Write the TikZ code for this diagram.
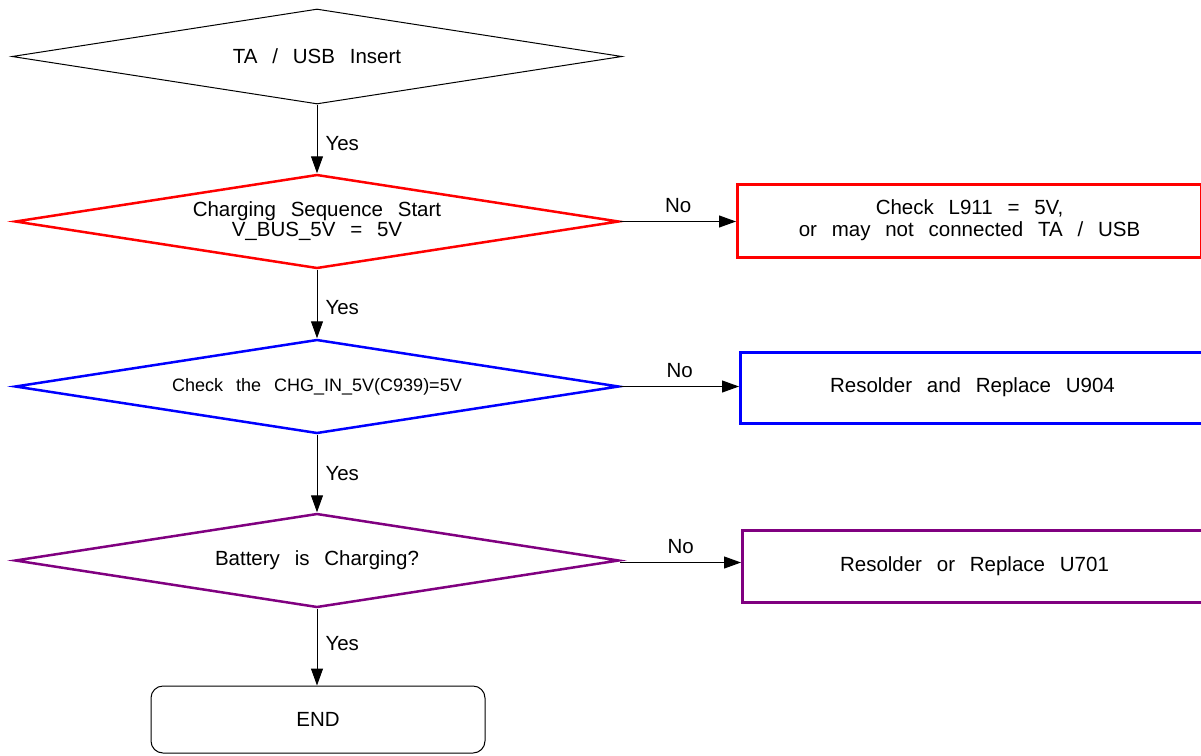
\documentclass[tikz,border=0pt]{standalone}
\usepackage{fontspec}
\setmainfont[WordSpace=2.6]{Liberation Sans}
\usetikzlibrary{shapes.geometric,arrows.meta}
\definecolor{cred}{RGB}{255,0,0}
\definecolor{cblue}{RGB}{0,0,255}
\definecolor{cpurple}{RGB}{128,0,128}
\tikzset{
  dec/.style={shape=diamond, draw, aspect=6.4, minimum width=610pt, minimum height=95pt, inner sep=0pt, align=center, font=\fontsize{20.5}{20}\selectfont},
  cdec/.style={dec, line width=2.5pt, minimum width=604pt, minimum height=94pt},
  outbox/.style={shape=rectangle, draw, line width=3pt, minimum width=464pt, anchor=west, align=center, font=\fontsize{20.5}{22}\selectfont},
  endbox/.style={shape=rectangle, draw, rounded corners=12pt, line width=1pt, minimum width=334pt, minimum height=67pt, font=\fontsize{20.5}{22}\selectfont},
  conn/.style={line width=1pt, -{Triangle[length=17pt,width=12pt]}},
  lbl/.style={font=\fontsize{20.5}{22}\selectfont, inner sep=2pt},
}
\begin{document}
\begin{tikzpicture}[x=1pt,y=-1pt]
\useasboundingbox (0,0) rectangle (1201,755);
\node[dec, line width=1pt] (d0) at (317,56.5) {TA / USB Insert};
\node[cdec, draw=cred] (d1) at (317,221.5) {Charging Sequence Start\\V\_BUS\_5V = 5V};
\node[cdec, draw=cblue, font=\fontsize{18}{20}\selectfont] (d2) at (317,386.5) {Check the CHG\_IN\_5V(C939)=5V};
\node[cdec, draw=cpurple] (d3) at (317,560.5) {Battery is Charging?};
\node[endbox] (e) at (318,719.5) {END};
\node[outbox, draw=cred, minimum height=73pt] (b1) at (736,220.5) {Check L911 = 5V,\\or may not connected TA / USB};
\node[outbox, draw=cblue, minimum height=71pt] (b2) at (739,387.5) {Resolder and Replace U904};
\node[outbox, draw=cpurple, minimum height=72pt] (b3) at (741,566) {Resolder or Replace U701};
\draw[conn] (d0.south) -- node[lbl, right=6pt, yshift=-5pt] {Yes} (d1.north);
\draw[conn] (d1.south) -- node[lbl, right=6pt, yshift=-4pt] {Yes} (d2.north);
\draw[conn] (d2.south) -- node[lbl, right=6pt] {Yes} (d3.north);
\draw[conn] (d3.south) -- node[lbl, right=6pt, yshift=4pt] {Yes} (d3.south |- e.north);
\draw[conn] (d1.east) -- node[lbl, above=6pt] {No} (b1.west |- d1.east);
\draw[conn] (d2.east) -- node[lbl, above=6pt] {No} (b2.west |- d2.east);
\draw[conn] (d3.east) ++(0,2) coordinate (s3) (s3) -- node[lbl, above=6pt] {No} (b3.west |- s3);
\end{tikzpicture}
\end{document}
